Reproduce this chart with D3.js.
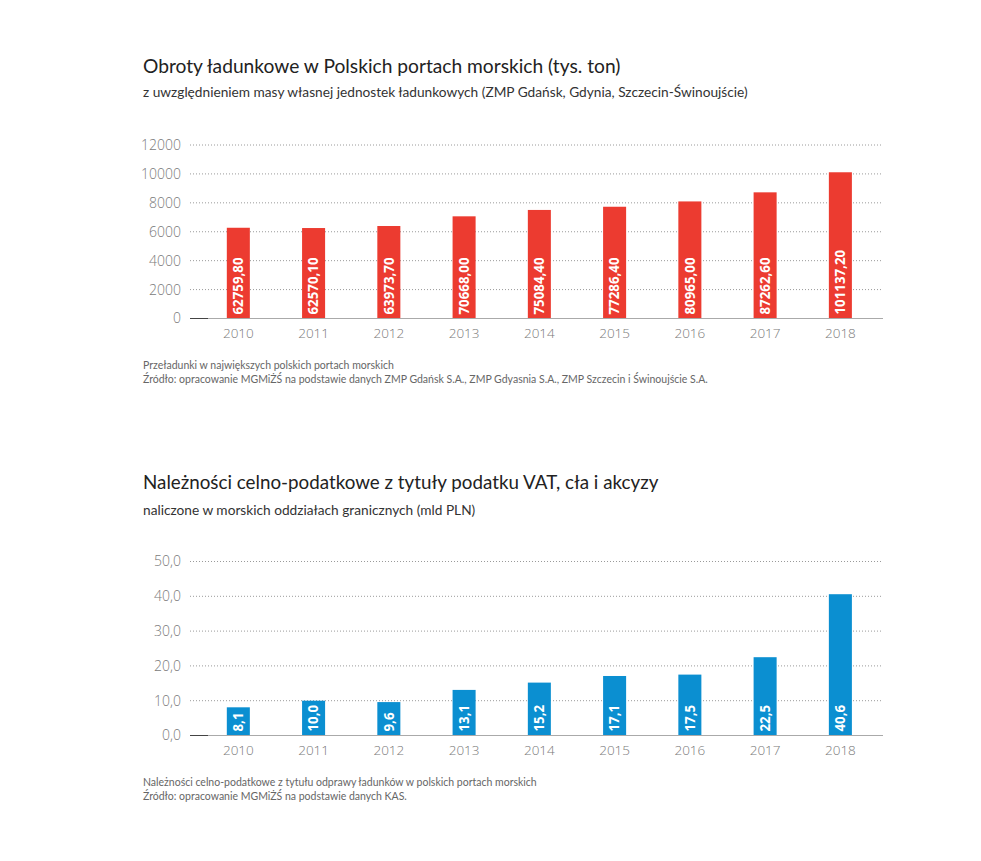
<!DOCTYPE html>
<html><head><meta charset="utf-8">
<script src="https://cdn.jsdelivr.net/npm/d3@7"></script>
<style>
body{margin:0;background:#fff;}
svg{display:block;}
</style></head>
<body>
<svg id="chart" width="981" height="861"></svg>
<script>
const years = ["2010","2011","2012","2013","2014","2015","2016","2017","2018"];
// top chart: bar heights as drawn (axis 0-12000) and printed labels
const cargoBars = [6276, 6257, 6397, 7067, 7508, 7729, 8097, 8726, 10114];
const cargoLabels = ["62759,80","62570,10","63973,70","70668,00","75084,40","77286,40","80965,00","87262,60","101137,20"];
const cargoTicks = [0,2000,4000,6000,8000,10000,12000];
// bottom chart
const dutyValues = [8.1, 10.0, 9.6, 13.1, 15.2, 17.1, 17.5, 22.5, 40.6];
const dutyTicks = [0,10,20,30,40,50];

const svg = d3.select("#chart");
const FONT = "Lato, 'Open Sans', sans-serif";

function panel(cfg){
  const g = svg.append("g");
  g.append("text").attr("x",143).attr("y",cfg.titleY).text(cfg.title)
    .attr("font-family",FONT).attr("font-size",cfg.titleSize).attr("fill","#222");
  g.append("text").attr("x",143).attr("y",cfg.subY).text(cfg.sub)
    .attr("font-family",FONT).attr("font-size",13.7).attr("fill","#333");

  const x = d3.scaleBand().domain(years).range([200.7,878]).paddingInner(0.694).paddingOuter(0.347);
  const y = d3.scaleLinear().domain(cfg.domain).range([cfg.y0,cfg.y1]);

  // gridlines
  g.append("g").selectAll("line").data(cfg.ticks.filter(t=>t!==0)).join("line")
    .attr("x1",190).attr("x2",883).attr("y1",d=>y(d)).attr("y2",d=>y(d))
    .attr("stroke","#9a9a9a").attr("stroke-width",1).attr("stroke-dasharray","1,2");

  // y axis labels
  const ya = d3.axisLeft(y).tickValues(cfg.ticks).tickSize(0).tickPadding(0).tickFormat(cfg.fmt);
  const yg = g.append("g").attr("transform","translate(181,0)").call(ya);
  yg.select(".domain").remove();
  yg.selectAll("text").attr("font-family","'Open Sans', Lato, sans-serif").attr("font-weight",300)
    .attr("font-size",14).attr("fill","#7a7a7a");

  // bars
  g.append("g").selectAll("rect").data(cfg.values).join("rect")
    .attr("x",(d,i)=>x(years[i])).attr("width",x.bandwidth())
    .attr("y",d=>y(d)).attr("height",d=>y(0)-y(d)).attr("fill",cfg.color);

  // baseline
  g.append("line").attr("x1",190).attr("x2",883).attr("y1",y(0)).attr("y2",y(0))
    .attr("stroke","#aaa").attr("stroke-width",1);
  g.append("line").attr("x1",190).attr("x2",208).attr("y1",y(0)).attr("y2",y(0))
    .attr("stroke","#444").attr("stroke-width",1);

  // x axis labels
  const xa = d3.axisBottom(x).tickSize(0).tickPadding(0);
  const xg = g.append("g").attr("transform",`translate(0,${y(0)+10})`).call(xa);
  xg.select(".domain").remove();
  xg.selectAll("text").attr("font-family","'Open Sans', Lato, sans-serif").attr("font-weight",300)
    .attr("font-size",13.5).attr("fill","#7a7a7a");

  // value labels
  g.append("g").selectAll("text").data(cfg.labels).join("text")
    .attr("transform",(d,i)=>`translate(${x(years[i])+x.bandwidth()/2+4.8},${y(0)-4}) rotate(-90)`)
    .text(d=>d).attr("font-family","'Open Sans', sans-serif").attr("font-weight",700)
    .attr("font-size",13.3).attr("fill","#fff");

  // footnotes
  cfg.notes.forEach((n,i)=>{
    g.append("text").attr("x",143).attr("y",cfg.noteY+i*13.5).text(n)
      .attr("font-family",FONT).attr("font-size",10.5).attr("fill","#666");
  });
}

panel({
  title:"Obroty ładunkowe w Polskich portach morskich (tys. ton)",
  sub:"z uwzględnieniem masy własnej jednostek ładunkowych (ZMP Gdańsk, Gdynia, Szczecin-Świnoujście)",
  titleSize:19.2,
  titleY:73, subY:97, domain:[0,12000], y0:318.5, y1:145, ticks:cargoTicks,
  fmt:d=>String(d), values:cargoBars, labels:cargoLabels, color:"#ec3b30",
  notes:["Przeładunki w największych polskich portach morskich",
         "Źródło: opracowanie MGMiŻŚ na podstawie danych ZMP Gdańsk S.A., ZMP Gdyasnia S.A., ZMP  Szczecin i Świnoujście S.A."],
  noteY:369
});

panel({
  title:"Należności celno-podatkowe z tytuły podatku VAT, cła i akcyzy",
  sub:"naliczone w morskich oddziałach granicznych (mld PLN)",
  titleSize:18.8,
  titleY:489, subY:515, domain:[0,50], y0:735.5, y1:561.5, ticks:dutyTicks,
  fmt:d=>d3.format(".1f")(d).replace(".",","), values:dutyValues,
  labels:dutyValues.map(v=>d3.format(".1f")(v).replace(".",",")), color:"#0b8fd1",
  notes:["Należności celno-podatkowe z tytułu odprawy ładunków w polskich portach morskich",
         "Źródło: opracowanie MGMiŻŚ na podstawie danych KAS."],
  noteY:786
});
</script>
</body></html>
